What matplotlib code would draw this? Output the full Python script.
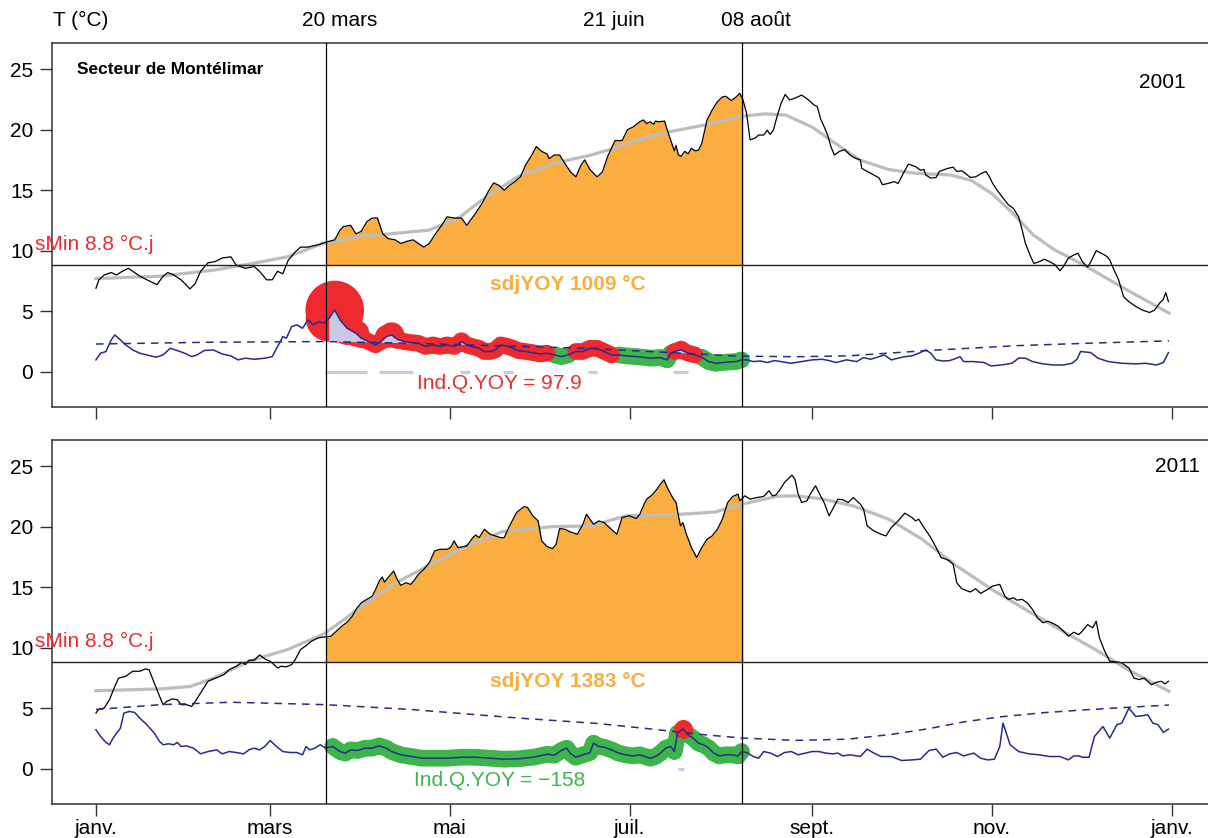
import numpy as np
import matplotlib.pyplot as plt
from matplotlib import font_manager

plt.rcParams['font.family'] = ['Liberation Sans', 'DejaVu Sans']

# ---------------- 2001 ----------------
t01_days = [0, 1.0, 2.8, 5.2, 7.0, 8.9, 11.0, 12.5, 14.9, 17.3, 20.7, 22.8, 24.4, 26.4, 28.9, 31.9, 33.7,
            35.5, 38.0, 40.4, 42.8, 45.8, 47.6, 50.7, 53.7, 55.5, 57.9, 59.8, 61.6, 63.4, 65.2, 67.6, 69.4,
            71.9, 75.5, 78.0, 81.0, 82.8, 84.0, 86.4, 88.2, 90.0, 91.9, 93.7, 95.5, 97.3, 99.1, 101.5, 103.4,
            105.8, 107.6, 109.4, 111.2, 113.1, 114.9, 117.3, 119.1, 121.5, 124.0, 125.8, 127.0, 128.8, 131.2,
            133.1, 134.9, 136.7, 138.5, 140.3, 142.1, 144.0, 145.8, 147.6, 149.4, 151.2, 153.0, 153.7, 155.5,
            157.3, 159.1, 161.0, 162.8, 164.6, 165.8, 167.6, 170.0, 171.8, 173.6, 176.1, 178.5, 180.3, 182.1,
            184.5, 185.7, 186.8, 188.0, 189.2, 189.8, 190.9, 192.9, 193.8, 195.0, 196.2, 196.8, 197.6, 198.5,
            199.7, 200.9, 202.0, 203.2, 204.4, 205.5, 207.3, 209.0, 210.8, 212.5, 213.7, 215.5, 217.2, 218.4,
            219.5, 220.7, 221.3, 221.9, 223.6, 224.8, 226.5, 227.7, 228.7, 229.8, 231.0, 232.4, 233.8, 235.3,
            237.1, 239.4, 241.7, 243.5, 244.7, 245.8, 247.0, 248.2, 249.3, 250.5, 252.2, 254.0, 255.8, 257.5,
            259.3, 259.8, 261.6, 263.9, 265.7, 266.8, 268.6, 270.9, 272.1, 273.9, 275.6, 278.0, 279.7, 280.9,
            281.5, 283.2, 285.0, 286.1, 287.3, 289.0, 290.8, 292.0, 293.7, 294.9, 296.6, 298.4, 300.1, 301.9,
            303.1, 304.2, 306.0, 307.7, 309.5, 311.2, 313.0, 314.2, 315.3, 317.1, 318.2, 320.0, 321.7, 323.5,
            325.3, 327.0, 328.2, 329.9, 331.7, 333.1, 334.6, 336.4, 337.5, 339.3, 341.0, 342.8, 343.9, 345.1,
            346.9, 348.6, 350.4, 352.7, 355.0, 357.4, 359.1, 360.9, 362.0, 362.9, 363.8]
t01 = [6.9, 7.6, 8.0, 8.2, 8.0, 8.3, 8.55, 8.3, 7.9, 7.6, 7.2, 7.9, 8.2, 8.0, 7.6, 6.85, 7.3,
       8.3, 9.0, 9.1, 9.4, 9.5, 8.8, 8.55, 8.7, 8.3, 7.6, 7.6, 8.3, 8.1, 9.2, 9.9, 10.3,
       10.3, 10.5, 10.7, 10.9, 11.7, 12.0, 12.1, 11.4, 11.6, 12.4, 12.7, 12.7, 11.4, 11.0, 10.9, 10.6,
       10.8, 10.9, 10.6, 10.3, 10.6, 11.3, 12.1, 12.8, 12.7, 12.7, 12.1, 12.5, 13.1, 14.0,
       14.9, 15.6, 15.4, 15.0, 15.4, 15.7, 16.1, 17.1, 17.8, 18.6, 18.2, 18.0, 17.6, 17.9,
       17.9, 17.2, 16.5, 16.1, 17.1, 17.5, 16.7, 16.1, 16.5, 17.8, 19.1, 19.1, 20.0, 20.2,
       20.65, 20.8, 20.5, 20.65, 20.45, 20.7, 20.65, 20.7, 19.96, 19.1, 18.25, 18.7, 17.9, 17.8,
       18.2, 18.0, 18.45, 18.25, 18.3, 18.85, 20.8, 21.6, 22.3, 22.7, 22.75, 22.4, 22.7, 23.0,
       22.45, 21.35, 20.25, 19.15, 19.3, 19.55, 19.55, 19.95, 19.6, 19.95, 21.05, 22.15, 22.9, 22.45,
       22.6, 22.85, 22.45, 22.05, 21.9, 20.9, 20.25, 19.55, 18.6, 17.9, 18.2, 18.35, 17.9, 17.65,
       17.5, 16.8, 16.55, 16.25, 16.0, 15.45, 15.55, 15.7, 15.55, 16.4, 17.15, 16.95, 16.65, 16.7,
       16.25, 16.0, 16.05, 16.55, 16.65, 16.8, 16.9, 16.55, 16.6, 16.4, 16.05, 16.1, 16.35, 16.55,
       16.1, 15.55, 14.9, 14.35, 13.8, 13.5, 12.8, 11.7, 10.6, 9.5, 8.95, 9.1, 9.3, 9.1,
       8.85, 8.35, 8.7, 9.4, 9.65, 9.8, 9.1, 8.65, 9.1, 10.0, 9.8, 9.55, 9.25, 8.55,
       7.6, 6.2, 5.8, 5.4, 5.1, 4.9, 5.1, 5.7, 5.95, 6.55, 5.8]

smooth01_days = [0, 22, 40, 52, 65, 77, 90, 100, 113, 123, 131, 143, 155, 168, 175, 186, 194, 207, 219,
                 227, 234, 243, 250, 259, 269, 278, 290, 297, 304, 311, 318, 325, 336, 348, 364]
smooth01 = [7.7, 7.9, 8.4, 8.9, 9.5, 10.6, 11.2, 11.4, 11.7, 12.7, 14.2, 16.1, 17.2, 17.9, 18.4, 19.3, 19.8,
            20.4, 21.1, 21.3, 21.2, 20.2, 19.0, 17.5, 16.7, 16.4, 16.25, 15.8, 14.7, 13.1, 11.3, 10.1, 8.7,
            7.0, 4.85]

q01_days = [0, 1.6, 3.4, 5.2, 6.4, 8.3, 10.1, 12.5, 14.9, 17.3, 20.4, 22.8, 25.2, 27.6, 30.1, 32.5, 34.3,
            36.7, 39.8, 42.8, 45.8, 48.2, 50.7, 53.7, 57.3, 59.8, 61.6, 63.4, 64.6, 66.4, 68.2, 70.1, 71.9,
            73.7, 75.5, 77.3, 79.1, 81.0, 82.8, 85.2, 88.2, 90.0, 92.5, 94.9, 96.7, 98.5, 100.3, 102.2,
            104.6, 107.0, 109.4, 111.9, 114.3, 116.7, 119.1, 121.5, 124.0, 125.8, 127.6, 130.0, 131.8,
            133.7, 135.5, 137.3, 139.1, 141.5, 143.3, 145.8, 148.2, 150.6, 153.0, 155.5, 157.9, 160.3,
            162.7, 165.2, 167.6, 170.0, 172.4, 174.9, 177.3, 179.7, 183.3, 188.0, 191.5, 193.8, 195.0,
            196.2, 198.5, 200.9, 203.2, 205.5, 207.9, 210.2, 213.7, 217.2, 219.0, 220.7, 223.0, 225.4,
            227.7, 230.1, 232.4, 235.9, 239.4, 242.9, 246.4, 248.7, 251.1, 254.6, 258.1, 260.4, 262.8,
            265.1, 267.4, 269.8, 272.1, 274.4, 276.8, 279.1, 281.5, 283.2, 285.0, 287.3, 289.6, 292.0,
            293.1, 294.3, 297.8, 301.3, 303.6, 307.1, 310.7, 313.0, 315.3, 317.7, 321.2, 324.7, 328.2,
            331.1, 332.8, 334.0, 337.5, 339.9, 343.4, 348.0, 352.7, 356.2, 359.7, 362.1, 363.8]
q01 = [0.99, 1.54, 1.68, 2.64, 3.05, 2.64, 2.23, 1.81, 1.54, 1.40, 1.21, 1.40, 1.95, 1.76, 1.54, 1.26, 1.40,
       1.76, 1.81, 1.48, 1.32, 0.99, 1.13, 1.04, 1.13, 1.26, 2.09, 2.91, 2.78, 3.74, 3.88, 3.60, 4.29,
       3.88, 4.15, 4.01, 4.43, 5.11, 4.29, 3.60, 3.19, 2.78, 2.50, 2.23, 2.50, 2.91, 3.05, 2.69,
       2.50, 2.42, 2.36, 2.09, 2.23, 2.09, 2.23, 2.09, 2.50, 2.23, 2.09, 1.95, 1.68,
       1.68, 1.81, 2.23, 2.14, 1.95, 1.76, 1.68, 1.59, 1.48, 1.54, 1.40, 1.26, 1.40,
       1.68, 1.68, 1.95, 1.95, 1.68, 1.40, 1.40, 1.32, 1.26, 1.13, 1.18, 0.99, 1.54,
       1.68, 1.81, 1.54, 1.40, 1.21, 0.85, 0.71, 0.80, 0.85, 0.99, 0.99, 0.85, 0.90,
       0.77, 0.93, 0.85, 0.71, 0.85, 0.99, 1.04, 0.93, 0.77, 0.99, 0.85, 1.18, 1.04,
       1.21, 1.40, 0.99, 1.13, 1.26, 1.32, 1.54, 1.81, 1.54, 0.99, 0.90, 0.93, 1.13,
       1.26, 0.85, 0.85, 0.77, 0.49, 0.57, 0.71, 1.13, 1.13, 0.85, 0.66, 0.57, 0.57,
       0.71, 1.04, 1.68, 1.59, 1.13, 0.85, 0.71, 0.66, 0.71, 0.57, 0.77, 1.59]

qnorm01_days = [0, 40, 78, 107, 130, 165, 188, 218, 237, 255, 282, 313, 336, 364]
qnorm01 = [2.3, 2.45, 2.5, 2.36, 2.2, 1.95, 1.68, 1.3, 1.25, 1.32, 1.76, 2.17, 2.36, 2.56]

red_spans01 = [(78, 153), (161, 175.5), (195.7, 204)]
zero_spans01 = [(77.7, 92), (96, 107.5), (123.5, 127), (138, 141.5), (167, 170), (195.7, 200.8)]

# ---------------- 2011 ----------------
t11_days = [0, 1.0, 2.8, 4.6, 6.4, 7.7, 10.1, 12.5, 14.9, 16.7, 18.0, 19.8, 21.6, 22.8, 24.0, 25.8, 27.6,
            28.9, 30.7, 32.5, 33.7, 35.5, 38.0, 39.8, 41.6, 43.4, 45.2, 47.6, 49.5, 50.7, 51.9, 53.7, 55.5,
            57.3, 59.1, 60.4, 61.6, 62.8, 64.6, 66.4, 67.6, 69.4, 71.3, 73.1, 75.5, 77.9, 79.7, 81.6, 83.4,
            85.2, 87.0, 88.2, 90.0, 91.9, 93.7, 94.9, 96.1, 97.1, 97.9, 99.7, 101.0, 102.2, 103.4, 105.2,
            106.8, 108.2, 109.4, 111.2, 113.1, 114.9, 116.7, 119.1, 120.3, 121.5, 122.8, 124.6, 125.8,
            127.6, 128.8, 130.0, 131.8, 133.7, 135.5, 137.3, 138.5, 140.3, 142.7, 145.2, 146.4, 148.2,
            150.0, 151.2, 153.0, 154.9, 156.1, 157.3, 159.1, 160.9, 163.3, 165.2, 166.4, 167.6, 168.8,
            170.6, 172.4, 174.2, 176.7, 178.5, 180.9, 183.3,
            184.5, 185.7, 186.8, 188.6, 190.3, 191.5, 192.7, 193.8, 195.6, 196.8, 197.6, 198.3, 199.1,
            200.3, 202.0, 203.8, 205.5, 207.3, 209.0, 210.8, 212.5, 214.3, 216.0, 217.8, 218.4, 219.5,
            220.1, 221.9, 224.2, 226.5, 228.3, 229.5, 230.6, 231.8, 233.6, 235.3, 236.1, 237.1, 238.2,
            239.4, 241.2, 242.3, 244.1, 245.8, 247.0, 248.7, 249.9, 251.7, 253.4, 255.2, 256.9, 259.3,
            260.4, 261.6, 263.9, 266.3, 268.0, 269.8, 272.1, 274.4, 276.8, 278.0, 279.1, 280.9, 283.2,
            285.0, 286.7, 288.5, 289.6, 290.8, 292.0, 293.7, 296.6, 298.4, 300.1, 302.5, 304.2, 306.6,
            308.3, 309.5, 311.2, 312.4, 314.2, 315.9, 317.7, 319.4, 321.2, 322.9, 324.7, 326.4, 328.2,
            329.9, 331.7, 333.4, 334.6, 336.4, 338.1, 339.3, 340.4, 342.2, 343.9, 346.3, 348.0, 350.4,
            352.1, 353.9, 355.6, 358.0, 359.7, 361.5, 362.6, 363.8]
t11 = [4.61, 4.94, 5.02, 5.71, 6.81, 7.50, 7.64, 8.06, 8.06, 8.25, 8.19, 7.09, 5.99, 5.30, 5.57, 5.77, 5.71,
       5.30, 5.30, 5.16, 5.57, 6.26, 7.23, 7.42, 7.59, 7.78, 8.19, 8.47, 8.80, 8.61, 8.97, 8.97, 9.41,
       9.08, 8.88, 8.61, 8.33, 8.47, 8.42, 8.61, 9.02, 9.85, 10.18, 10.54, 10.82, 10.90, 10.95, 11.37, 11.78,
       12.11, 12.61, 13.16, 13.71, 13.99, 14.26, 14.82, 15.51, 15.84, 15.42, 15.97, 16.33, 15.64, 15.15, 15.37,
       15.23, 15.64, 16.06, 16.47, 17.02, 17.99, 18.13, 18.13, 18.27, 18.82, 18.27, 18.35, 18.40,
       19.01, 19.31, 19.09, 19.78, 19.37, 19.23, 19.09, 19.09, 20.06, 21.16, 21.66, 21.58, 20.89,
       20.47, 18.82, 18.35, 18.18, 18.54, 19.84, 19.78, 19.56, 19.37, 20.20, 21.02, 20.61, 20.20,
       20.47, 20.33, 19.92, 19.37, 20.75, 20.89, 20.67,
       21.02, 21.71, 22.27, 22.60, 23.09, 23.51, 23.87, 23.23, 22.40, 21.99, 20.89, 20.06, 20.33,
       19.37, 18.27, 17.44, 18.27, 18.96, 19.23, 19.78, 20.61, 21.99, 22.49, 22.68, 22.13, 22.40,
       22.54, 22.27, 22.40, 22.49, 22.96, 22.54, 22.60, 22.96, 23.65, 24.06, 24.25, 23.92, 22.68,
       21.99, 22.13, 22.68, 23.37, 22.54, 21.99, 20.89, 21.44, 22.27, 22.21, 21.99, 22.40, 21.85,
       21.44, 20.06, 19.64, 19.37, 19.23, 19.92, 20.47, 21.11, 20.75, 20.47, 20.61, 19.92, 19.09,
       18.27, 17.44, 17.30, 17.16, 16.89, 15.37, 14.87, 14.60, 14.87, 14.49, 14.82, 15.09, 15.23,
       14.26, 13.99, 14.13, 13.93, 13.99, 13.71, 13.16, 12.47, 12.06, 12.19, 12.00, 11.78, 11.37,
       10.95, 11.28, 11.09, 11.37, 11.92, 11.64, 12.19, 10.82, 9.71, 8.88, 8.83, 8.75, 8.33,
       7.50, 7.37, 7.50, 6.95, 7.15, 7.23, 7.01, 7.23]

smooth11_days = [0, 22, 32, 40, 52, 65, 77, 84, 90, 102, 113, 125, 138, 155, 168, 180, 197, 210, 219,
                 231, 237, 246, 257, 269, 280, 292, 304, 315, 327, 339, 350, 364]
smooth11 = [6.45, 6.6, 6.8, 7.5, 8.9, 9.85, 11.1, 12.3, 13.4, 15.4, 16.8, 18.3, 19.6, 20.0, 20.06, 20.9,
            21.0, 21.2, 21.85, 22.5, 22.55, 22.3, 21.7, 20.6, 19.0, 16.75, 14.8, 13.2, 11.5, 9.85, 8.2, 6.4]

q11_days = [0, 1.6, 3.4, 4.6, 5.8, 7.0, 8.3, 9.5, 11.3, 13.1, 14.9, 17.3, 19.8, 21.6, 22.8, 24.6, 26.4,
            27.6, 28.9, 30.7, 33.1, 35.5, 38.0, 41.0, 42.8, 45.2, 47.6, 50.1, 51.9, 53.7, 55.5, 57.3, 59.1,
            61.0, 63.4, 65.8, 68.2, 70.1, 71.3, 72.5, 74.3, 76.1, 77.9, 80.3, 82.8, 84.6, 86.4, 88.8, 91.3,
            93.7, 96.1, 98.5, 100.3, 103.4, 107.0, 110.6, 114.3, 119.1, 124.0, 128.8, 133.7, 138.5, 143.3,
            148.2, 150.6, 153.0, 155.5, 157.9, 159.7, 160.9, 162.7, 165.2, 167.6, 168.8, 170.6, 172.4,
            174.9, 177.3, 179.7, 182.1,
            184.5, 186.3, 188.0, 189.8, 191.5, 193.3, 195.0, 196.2, 197.3, 199.1, 200.9, 202.6, 204.4,
            206.1, 207.9, 209.6, 211.4, 213.7, 216.0, 217.8, 219.0, 220.7, 223.0, 224.8, 226.5, 228.9,
            231.2, 233.6, 235.9, 238.2, 240.6, 242.9, 245.2, 247.6, 249.9, 251.7, 253.4, 255.8, 259.3,
            261.6, 263.9, 266.3, 269.8, 273.3, 276.8, 279.7, 282.6, 285.0, 287.3, 289.6, 292.0, 294.3,
            297.8, 300.1, 302.5, 304.8, 306.6, 307.7, 310.1, 313.0, 316.5, 320.0, 323.5, 327.0, 329.9,
            331.7, 333.4, 334.6, 336.9, 338.7, 341.6, 343.9, 346.3, 348.0, 350.4, 352.7, 355.0, 356.8,
            358.5, 360.3, 362.1, 363.8]
q11 = [3.23, 2.67, 2.18, 1.99, 2.54, 2.95, 3.36, 4.61, 4.74, 4.66, 4.19, 3.64, 2.95, 2.26, 1.99, 2.07, 1.99,
       2.18, 1.85, 1.90, 1.71, 1.24, 1.43, 1.57, 1.24, 1.43, 1.35, 1.24, 1.57, 1.71, 1.57, 1.85, 2.34,
       1.90, 1.43, 1.35, 1.35, 1.16, 1.85, 1.57, 1.71, 1.99, 1.71, 1.85, 1.43, 1.30, 1.57, 1.52, 1.71,
       1.71, 1.90, 1.71, 1.43, 1.16, 1.02, 0.88, 0.88, 0.88, 0.96, 0.96, 0.88, 0.80, 0.83,
       0.96, 1.07, 1.21, 1.13, 1.52, 1.71, 1.30, 0.96, 1.16, 1.35, 2.12, 1.85, 1.79,
       1.57, 1.30, 1.16, 1.07,
       1.16, 1.02, 0.88, 1.02, 1.30, 1.71, 1.85, 1.43, 2.95, 3.30, 2.81, 2.54, 2.12,
       1.99, 1.71, 1.30, 1.07, 1.16, 1.16, 1.07, 1.43, 1.35, 1.02, 0.88, 1.43, 1.30,
       1.02, 1.35, 1.43, 1.16, 1.30, 1.43, 1.43, 1.30, 1.24, 1.30, 1.07, 1.16, 1.02,
       1.63, 1.30, 1.02, 1.02, 0.69, 0.74, 0.80, 1.52, 1.63, 0.96, 1.24, 1.35, 1.07,
       1.30, 0.88, 0.74, 0.80, 1.85, 3.78, 1.99, 1.43, 1.24, 1.16, 1.02, 1.02, 0.74,
       1.07, 1.07, 0.96, 0.96, 2.67, 3.50, 2.54, 3.64, 3.78, 5.02, 4.33, 4.39, 4.47,
       3.78, 3.64, 3.01, 3.28]

qnorm11_days = [0, 22, 46, 78, 107, 143, 170, 188, 205, 219, 237, 255, 270, 282, 295, 307, 322, 336, 350, 364]
qnorm11 = [4.9, 5.3, 5.5, 5.3, 4.9, 4.2, 3.75, 3.3, 2.85, 2.55, 2.35, 2.45, 2.85, 3.3, 3.9, 4.3, 4.65, 4.88,
           5.08, 5.27]

red_spans11 = [(198.5, 200)]
zero_spans11 = [(197.5, 199.5)]

panels = [
    dict(year='2001', t_days=t01_days, t=t01, s_days=smooth01_days, s=smooth01, q_days=q01_days, q=q01,
         n_days=qnorm01_days, n=qnorm01, red=red_spans01, zero=zero_spans01,
         sdj='sdjYOY 1009 °C', ind='Ind.Q.YOY = 97.9', ind_col='#EE2A2F', year_xy=(369.5, 23.9)),
    dict(year='2011', t_days=t11_days, t=t11, s_days=smooth11_days, s=smooth11, q_days=q11_days, q=q11,
         n_days=qnorm11_days, n=qnorm11, red=red_spans11, zero=zero_spans11,
         sdj='sdjYOY 1383 °C', ind='Ind.Q.YOY = \u2212158', ind_col='#3DB54A', year_xy=(374.5, 25.0)),
]

smin = 8.8
d_start, d_end = 78, 219
month_ticks = [0, 59, 120, 181, 243, 304, 365]
month_labels = ['janv.', 'mars', 'mai', 'juil.', 'sept.', 'nov.', 'janv.']
top_days = [78, 171, 219]
top_labels = ['20 mars', '21 juin', '08 août']

orange = '#F9AE3F'
red = '#EE2A2F'
green = '#3DB54A'
navy = '#262C8C'
lavender = '#C9C9E6'

fig = plt.figure(figsize=(12.08, 8.38), dpi=100)
W, H = 1208, 838
px_per_day = 2.948
xlim = (-14.9, 380)
width = (xlim[1] - xlim[0]) * px_per_day / W

axes = [fig.add_axes([52 / W, 1 - 407 / H, width, 364 / H]),
        fig.add_axes([52 / W, 1 - 804 / H, width, 364 / H])]

for ax, p in zip(axes, panels):
    td = np.array(p['t_days'])
    t = np.array(p['t'])
    qd = np.array(p['q_days'])
    q = np.array(p['q'])
    qn = np.interp(qd, p['n_days'], p['n'])

    win = (td >= d_start - 0.2) & (td <= d_end + 0.6)
    ax.fill_between(td, t, smin, where=win, color=orange, lw=0, zorder=1)
    ax.plot(p['s_days'], p['s'], color='#BDBDBD', lw=2.3, zorder=2)
    ax.plot(td, t, color='black', lw=0.9, zorder=3)

    # markers along discharge in the window: red above normal, green otherwise
    qwin = (qd >= d_start) & (qd <= d_end + 0.6)
    is_red = np.zeros(len(qd), bool)
    for a, b in p['red']:
        is_red |= (qd >= a) & (qd <= b)
    excess = np.clip(q - qn, 0, None)
    rad = np.where(is_red, 7 + 8.5 * excess, 8)
    sizes = (1.44 * rad) ** 2
    g = qwin & ~is_red
    r = qwin & is_red
    for m, col in ((g, green), (r, red)):
        ax.plot(qd, np.where(m, q, np.nan), color=col, lw=12, solid_capstyle='round',
                solid_joinstyle='round', zorder=4)
        ax.scatter(qd[m], q[m], s=sizes[m], color=col, lw=0, zorder=4)

    ax.fill_between(qd, q, qn, where=qwin & (q > qn), color=lavender, lw=0, zorder=5)
    for a, b in p['zero']:
        ax.plot([a, b], [0, 0], color=lavender, lw=2.3, solid_capstyle='butt', zorder=5)
    ax.plot(qd, q, color=navy, lw=1.1, zorder=6)
    ax.plot(p['n_days'], p['n'], color=navy, lw=1.1, ls=(0, (5, 4)), zorder=6)

    ax.axhline(smin, color='#222222', lw=1.0, zorder=7)
    ax.axvline(d_start, color='black', lw=0.9, zorder=7)
    ax.axvline(d_end, color='black', lw=0.9, zorder=7)

    ax.set_xlim(*xlim)
    ax.set_ylim(-2.9, 27.15)
    ax.set_yticks([0, 5, 10, 15, 20, 25])
    ax.set_xticks(month_ticks)
    ax.tick_params(length=8.5, width=1.0, color='#333333', labelsize=15, pad=5)
    ax.tick_params(axis='x', pad=2)
    for sp in ax.spines.values():
        sp.set_color('#333333')
        sp.set_linewidth(1.1)

    ax.text(-20.7, 10.5, 'sMin 8.8 °C.j', color=red, fontsize=15, ha='left', va='center', clip_on=False)
    ax.text(160, 7.25, p['sdj'], color=orange, fontsize=15, fontweight='bold', ha='center', va='center')
    ax.text(137, -1.0, p['ind'], color=p['ind_col'], fontsize=15, ha='center', va='center')
    ax.text(p['year_xy'][0], p['year_xy'][1], p['year'], fontsize=15, ha='right', va='center')

axes[0].set_xticklabels([])
axes[1].set_xticklabels(month_labels)

# title of the sector: narrow bold face if installed
names = {f.name for f in font_manager.fontManager.ttflist}
if 'Liberation Sans Narrow' in names:
    axes[0].text(-6.4, 25, 'Secteur de Montélimar', family='Liberation Sans Narrow', fontsize=14.5,
                 fontweight='bold', ha='left', va='center')
else:
    axes[0].text(-6.4, 25, 'Secteur de Montélimar', fontsize=12.5, fontweight='bold', ha='left', va='center')

fig.text(53 / W, 1 - 20 / H, 'T (°C)', fontsize=15, ha='left', va='center')
for d, lab in zip(top_days, top_labels):
    x = (52 + (d - xlim[0]) * px_per_day + 14) / W
    fig.text(x, 1 - 20 / H, lab, fontsize=15, ha='center', va='center')

fig.savefig('out.png', dpi=100)
